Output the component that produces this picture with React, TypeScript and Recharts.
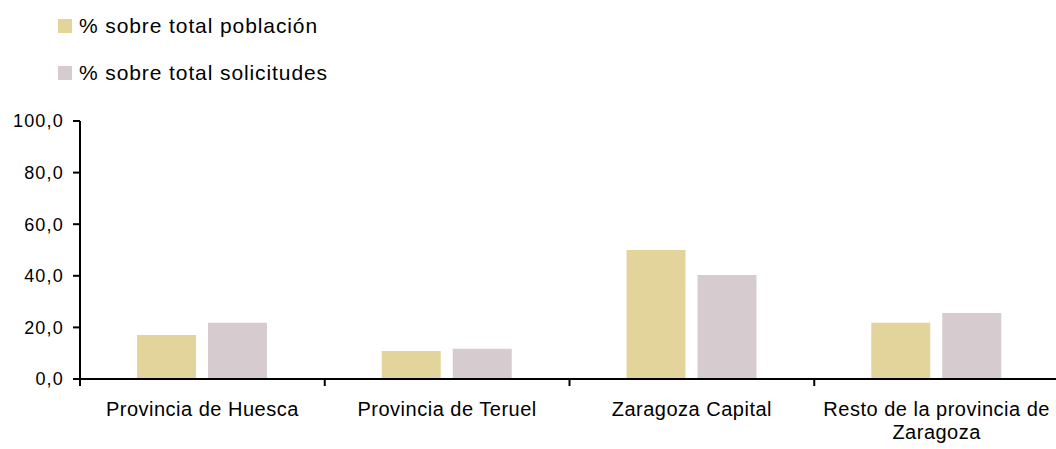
import { BarChart, Bar, XAxis, YAxis, Text } from "recharts";

const categories = [
  "Provincia de Huesca",
  "Provincia de Teruel",
  "Zaragoza Capital",
  "Resto de la provincia de Zaragoza",
];
const poblacion = [17.1, 10.9, 50.0, 21.8];
const solicitudes = [21.8, 11.7, 40.3, 25.6];
const yTicks = [0, 20, 40, 60, 80, 100];

const series = [
  { key: "poblacion", name: "% sobre total población", color: "#E3D49B" },
  { key: "solicitudes", name: "% sobre total solicitudes", color: "#D6CBCF" },
];

const FONT = "'Liberation Sans', Arial, sans-serif";

const data = categories.map((c, i) => ({
  cat: c,
  poblacion: poblacion[i],
  solicitudes: solicitudes[i],
}));

// label (wrapped) + tick mark on the left edge of each category band
function CatTick(props: any) {
  const { x, y, payload, width, visibleTicksCount } = props;
  const half =
    payload && payload.offset ? payload.offset : width / visibleTicksCount / 2;
  return (
    <g>
      <line x1={x - half} x2={x - half} y1={y} y2={y + 7} stroke="#000" strokeWidth={2} />
      <Text
        x={x}
        y={y + 23}
        width={235}
        textAnchor="middle"
        verticalAnchor="start"
        lineHeight={23}
        fill="#000"
        style={{ fontSize: 20, fontFamily: FONT, letterSpacing: 0.5 }}
      >
        {payload.value}
      </Text>
    </g>
  );
}

export default function App() {
  return (
    <div
      style={{
        position: "fixed",
        left: 0,
        top: 0,
        width: 1056,
        height: 449,
        overflow: "hidden",
        background: "#fff",
      }}
    >
      {/* legend, stacked top-left */}
      {series.map((s, i) => (
        <div
          key={s.key}
          style={{
            position: "absolute",
            left: 58,
            top: 14 + i * 47,
            height: 24,
            display: "flex",
            alignItems: "center",
            fontFamily: FONT,
            fontSize: 21,
            lineHeight: "24px",
            letterSpacing: 0.9,
            color: "#000",
            whiteSpace: "nowrap",
          }}
        >
          <span
            style={{
              display: "inline-block",
              width: 14,
              height: 14,
              background: s.color,
              marginRight: 7,
            }}
          />
          {s.name}
        </div>
      ))}

      <BarChart
        width={1059}
        height={449}
        data={data}
        margin={{ top: 121, right: 0, left: 0, bottom: 0 }}
        barGap={12}
        barSize={59}
      >
        <XAxis
          dataKey="cat"
          height={70}
          axisLine={{ stroke: "#000", strokeWidth: 2 }}
          tickLine={false}
          tickSize={0}
          tickMargin={0}
          interval={0}
          tick={<CatTick />}
        />
        <YAxis
          width={80}
          domain={[0, 100]}
          ticks={yTicks}
          tickFormatter={(v: number) => v.toFixed(1).replace(".", ",")}
          axisLine={{ stroke: "#000", strokeWidth: 2 }}
          tickLine={{ stroke: "#000", strokeWidth: 2 }}
          tickSize={7}
          tickMargin={9}
          tick={{ fill: "#000", fontSize: 18, fontFamily: FONT, letterSpacing: 1.2 }}
        />
        {series.map((s) => (
          <Bar
            key={s.key}
            dataKey={s.key}
            name={s.name}
            fill={s.color}
            isAnimationActive={false}
          />
        ))}
      </BarChart>
    </div>
  );
}
